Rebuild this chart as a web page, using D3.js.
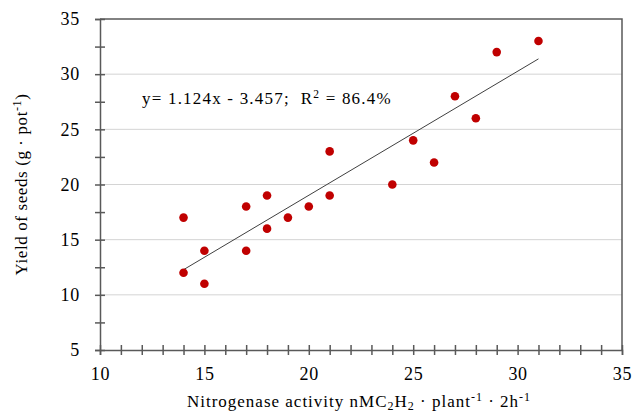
<!DOCTYPE html>
<html lang="en">
  <head>
    <meta charset="UTF-8" />
    <title>Yield of seeds vs nitrogenase activity</title>
    <script src="https://d3js.org/d3.v7.min.js"></script>
    <style>
      body {
        margin: 0;
        background: #ffffff;
      }
      svg {
        display: block;
      }
      text {
        white-space: pre;
      }
    </style>
  </head>
  <body>
    <svg id="chart" width="632" height="414"></svg>

    <script>
      // nitrogenase activity (x) and yield of seeds (y)
      const activity = [14, 14, 15, 15, 17, 17, 18, 18, 19, 20, 21, 21, 24, 25, 26, 27, 28, 29, 31];
      const yieldSeeds = [17, 12, 14, 11, 18, 14, 19, 16, 17, 18, 23, 19, 20, 24, 22, 28, 26, 32, 33];

      const slope = 1.124;
      const intercept = -3.457;
      const r2 = "86.4%";

      const xTicks = d3.range(10, 36, 1);
      const yTicks = d3.range(5, 35.1, 2.5);
      const gridValues = [10, 15, 20, 25, 30];

      const font = "Liberation Serif";
      const svg = d3.select("#chart");
      const margin = {top: 19, right: 10, bottom: 64, left: 100};
      const width = 632 - margin.left - margin.right;
      const height = 414 - margin.top - margin.bottom;

      const x = d3.scaleLinear().domain([10, 35]).range([margin.left, margin.left + width]);
      const y = d3.scaleLinear().domain([5, 35]).range([margin.top + height, margin.top]);

      // gridlines
      svg
        .append("g")
        .selectAll("line")
        .data(gridValues)
        .join("line")
        .attr("x1", x(10))
        .attr("x2", x(35))
        .attr("y1", (d) => y(d))
        .attr("y2", (d) => y(d))
        .attr("stroke", "#d4d4d4")
        .attr("stroke-width", 1);

      // top and right border
      svg
        .append("path")
        .attr("d", `M${x(10)},${y(35)}H${x(35)}V${y(5)}`)
        .attr("fill", "none")
        .attr("stroke", "#595959")
        .attr("stroke-width", 1.5);

      const xAxis = svg
        .append("g")
        .attr("transform", `translate(0,${y(5)})`)
        .call(
          d3
            .axisBottom(x)
            .tickValues(xTicks)
            .tickSize(5)
            .tickPadding(12)
            .tickFormat((d) => (d % 5 === 0 ? d : ""))
        );

      const yAxis = svg
        .append("g")
        .attr("transform", `translate(${x(10)},0)`)
        .call(
          d3
            .axisLeft(y)
            .tickValues(yTicks)
            .tickSize(5)
            .tickPadding(15)
            .tickFormat((d) => (d % 5 === 0 ? d : ""))
        );

      xAxis.selectAll(".tick line").attr("y1", -5).attr("y2", 5);
      yAxis.selectAll(".tick line").attr("x1", -5).attr("x2", 5);
      [xAxis, yAxis].forEach((a) => {
        a.selectAll("text")
          .attr("font-family", font)
          .attr("font-size", 18)
          .attr("letter-spacing", 0.7)
          .attr("fill", "#000");
        a.selectAll("line, .domain").attr("stroke", "#595959").attr("stroke-width", 1.5);
      });

      // regression line
      const x0 = d3.min(activity);
      const x1 = d3.max(activity);
      svg
        .append("line")
        .attr("x1", x(x0))
        .attr("y1", y(slope * x0 + intercept))
        .attr("x2", x(x1))
        .attr("y2", y(slope * x1 + intercept))
        .attr("stroke", "#404040")
        .attr("stroke-width", 1);

      // points
      svg
        .append("g")
        .selectAll("circle")
        .data(activity)
        .join("circle")
        .attr("cx", (d) => x(d))
        .attr("cy", (d, i) => y(yieldSeeds[i]))
        .attr("r", 4.3)
        .attr("fill", "#c00000");

      // equation
      const eq = svg
        .append("text")
        .attr("x", 142)
        .attr("y", 104)
        .attr("font-family", font)
        .attr("font-size", 17)
        .attr("letter-spacing", 1.2)
        .attr("fill", "#000");
      eq.append("tspan").text(`y= ${slope}x - ${Math.abs(intercept)};  R`);
      eq.append("tspan").attr("dy", -6).attr("font-size", 11.5).text("2");
      eq.append("tspan").attr("dy", 6).text(" = " + r2);

      // x axis title
      const xt = svg
        .append("text")
        .attr("x", (x(10) + x(35)) / 2 - 2)
        .attr("y", 407)
        .attr("text-anchor", "middle")
        .attr("font-family", font)
        .attr("font-size", 17)
        .attr("letter-spacing", 1)
        .attr("fill", "#000");
      xt.append("tspan").text("Nitrogenase activity nMC");
      xt.append("tspan").attr("dy", 3).attr("font-size", 12).text("2");
      xt.append("tspan").attr("dy", -3).text("H");
      xt.append("tspan").attr("dy", 3).attr("font-size", 12).text("2");
      xt.append("tspan").attr("dy", -3).text(" · plant");
      xt.append("tspan").attr("dy", -6).attr("font-size", 12).text("-1");
      xt.append("tspan").attr("dy", 6).text(" · 2h");
      xt.append("tspan").attr("dy", -6).attr("font-size", 12).text("-1");

      // y axis title
      const yt = svg
        .append("text")
        .attr("transform", `translate(27,${(y(5) + y(35)) / 2}) rotate(-90)`)
        .attr("text-anchor", "middle")
        .attr("font-family", font)
        .attr("font-size", 17)
        .attr("letter-spacing", 0.6)
        .attr("fill", "#000");
      yt.append("tspan").text("Yield of seeds (g · pot");
      yt.append("tspan").attr("dy", -6).attr("font-size", 12).text("-1");
      yt.append("tspan").attr("dy", 6).text(")");
    </script>
  </body>
</html>
